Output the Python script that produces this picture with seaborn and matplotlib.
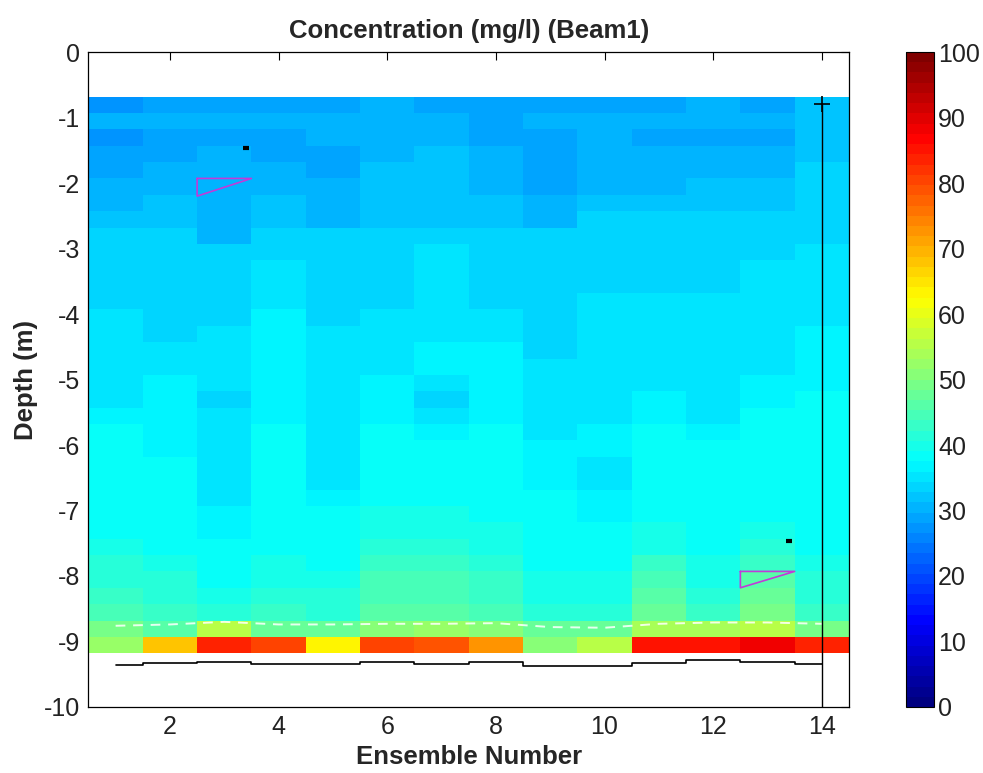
import numpy as np
import matplotlib
matplotlib.use("Agg")
import matplotlib.pyplot as plt
from matplotlib.colors import LinearSegmentedColormap
import seaborn as sns

# --- data ---
ensembles = np.arange(1, 15)
bin_top = -0.68      # top edge of first depth cell (m)
bin_size = 0.25      # depth cell size (m)

# concentration (mg/l), one row per depth cell (top -> bottom), one column per ensemble
conc = np.array([
    [27.0, 28.5, 28.5, 28.5, 28.5, 29.8, 28.5, 28.5, 28.5, 28.5, 28.5, 29.8, 28.5, 31.5],
    [29.8, 29.8, 29.8, 29.8, 31.0, 31.0, 29.8, 29.0, 29.8, 31.0, 31.0, 31.0, 31.0, 32.0],
    [27.3, 29.0, 29.0, 29.0, 29.8, 31.0, 29.8, 28.5, 28.5, 30.5, 28.5, 28.5, 28.5, 32.0],
    [28.5, 29.0, 29.8, 29.0, 29.0, 29.8, 32.0, 31.0, 29.0, 29.8, 29.8, 29.8, 29.8, 32.0],
    [29.0, 29.8, 30.5, 29.8, 29.0, 31.5, 32.0, 29.8, 29.0, 29.8, 30.5, 30.5, 30.5, 33.0],
    [29.8, 30.5, 31.0, 30.5, 30.5, 32.0, 32.0, 29.8, 29.0, 30.5, 30.5, 32.0, 32.0, 33.5],
    [30.5, 31.5, 31.0, 31.5, 30.5, 32.0, 32.0, 31.5, 29.8, 32.0, 32.0, 32.0, 32.0, 33.5],
    [31.5, 32.0, 30.5, 31.5, 31.0, 32.0, 32.0, 32.0, 30.5, 33.0, 33.0, 33.0, 33.0, 33.5],
    [33.0, 33.0, 31.0, 33.0, 33.0, 33.0, 34.0, 33.0, 33.0, 33.0, 33.5, 33.5, 33.5, 34.0],
    [33.5, 33.5, 33.0, 33.5, 33.5, 33.5, 34.8, 33.5, 33.5, 33.5, 33.5, 33.5, 33.0, 34.8],
    [34.0, 33.5, 34.0, 34.5, 34.0, 34.0, 35.0, 34.0, 34.0, 34.0, 34.0, 34.0, 34.5, 35.0],
    [33.5, 33.0, 33.0, 35.5, 33.8, 33.5, 35.0, 33.5, 33.5, 33.5, 33.5, 33.0, 34.5, 34.5],
    [33.8, 33.5, 33.8, 35.5, 33.5, 33.8, 35.0, 33.5, 33.5, 34.5, 34.5, 34.5, 34.5, 35.0],
    [35.5, 33.0, 33.8, 36.3, 33.5, 34.5, 35.0, 34.5, 33.5, 34.5, 34.5, 34.5, 34.5, 35.5],
    [35.5, 33.8, 35.0, 37.0, 34.5, 35.0, 35.0, 34.5, 33.8, 34.5, 34.5, 34.5, 35.0, 36.3],
    [35.0, 34.5, 35.0, 37.0, 34.5, 35.5, 36.3, 36.3, 33.8, 34.5, 34.5, 34.5, 35.5, 36.3],
    [35.0, 34.5, 34.5, 37.0, 34.5, 35.0, 36.3, 36.3, 34.5, 35.0, 35.0, 34.5, 35.5, 36.3],
    [35.0, 36.3, 34.5, 37.0, 35.0, 36.3, 35.5, 36.3, 35.0, 35.5, 35.5, 35.5, 36.3, 36.8],
    [35.0, 36.3, 33.0, 37.0, 34.5, 36.3, 33.8, 36.3, 34.5, 35.5, 36.3, 35.5, 36.3, 37.5],
    [37.0, 36.3, 34.5, 37.0, 34.5, 37.0, 35.5, 36.3, 34.5, 35.5, 36.3, 35.5, 37.5, 37.5],
    [37.5, 36.3, 35.0, 37.5, 35.0, 37.5, 37.0, 37.5, 34.5, 36.3, 37.5, 36.3, 37.5, 37.5],
    [37.5, 37.0, 35.0, 37.5, 35.5, 37.5, 37.5, 37.5, 36.3, 37.0, 37.5, 37.5, 37.5, 37.5],
    [38.0, 38.0, 35.5, 38.0, 35.5, 38.5, 38.0, 38.0, 36.3, 35.5, 38.0, 38.0, 38.0, 38.0],
    [38.5, 38.0, 35.5, 38.0, 35.5, 38.5, 38.5, 38.5, 36.3, 35.5, 38.0, 38.0, 38.0, 38.0],
    [38.5, 38.0, 35.5, 38.0, 36.0, 39.0, 39.0, 38.5, 37.5, 36.0, 38.5, 38.0, 38.0, 38.0],
    [38.5, 38.0, 36.0, 38.0, 37.5, 39.5, 39.5, 38.5, 37.5, 37.0, 38.5, 38.0, 38.5, 38.0],
    [39.0, 38.5, 37.0, 38.5, 38.0, 40.5, 40.5, 39.5, 38.0, 37.5, 39.5, 38.5, 39.5, 38.5],
    [40.0, 39.0, 37.5, 39.0, 38.5, 41.5, 41.5, 40.5, 38.0, 38.0, 40.5, 39.0, 41.5, 39.0],
    [41.0, 40.0, 38.0, 39.5, 39.0, 42.5, 42.5, 41.5, 38.5, 38.5, 42.5, 39.5, 43.5, 40.0],
    [42.0, 41.0, 39.0, 40.5, 40.0, 44.0, 44.0, 42.5, 39.5, 39.5, 44.5, 40.5, 46.0, 41.0],
    [43.0, 42.0, 40.0, 41.5, 41.0, 45.0, 45.0, 43.5, 40.5, 40.5, 46.0, 41.5, 47.5, 42.0],
    [45.0, 43.0, 41.0, 42.5, 42.0, 46.0, 46.0, 44.5, 41.5, 42.0, 47.0, 43.0, 49.0, 43.0],
    [49.0, 46.0, 56.0, 48.0, 48.0, 51.0, 52.0, 50.0, 47.0, 48.0, 54.0, 54.0, 55.0, 49.0],
    [53.0, 67.5, 84.0, 80.0, 64.0, 81.0, 79.0, 72.0, 51.0, 56.0, 85.0, 85.0, 87.5, 84.0],
])

# bottom track depth and side-lobe cutoff per ensemble (m)
bottom_depth = [-9.36, -9.33, -9.31, -9.34, -9.34, -9.31, -9.34, -9.31,
                -9.38, -9.38, -9.33, -9.29, -9.32, -9.34]
cutoff_depth = [-8.76, -8.74, -8.70, -8.74, -8.74, -8.73, -8.73, -8.72,
                -8.78, -8.79, -8.73, -8.71, -8.71, -8.73]

# current ensemble marker
cur_ens = 14
cur_top = -0.79

# magenta triangle markers and small black ticks
tri1_x = [2.5, 3.5, 2.5, 2.5]
tri1_y = [-1.93, -1.93, -2.20, -1.93]
tri2_x = [12.5, 13.5, 12.5, 12.5]
tri2_y = [-7.93, -7.93, -8.18, -7.93]
dash_x = [3.4, 13.4]
dash_y = [-1.47, -7.46]

# MATLAB-style jet
mjet = LinearSegmentedColormap('mjet', {
    'red':   [(0, 0, 0), (0.375, 0, 0), (0.625, 1, 1), (0.875, 1, 1), (1, 0.5, 0.5)],
    'green': [(0, 0, 0), (0.125, 0, 0), (0.375, 1, 1), (0.625, 1, 1), (0.875, 0, 0), (1, 0, 0)],
    'blue':  [(0, 0.5, 0.5), (0.125, 1, 1), (0.375, 1, 1), (0.625, 0, 0), (1, 0, 0)],
}, N=64)

# --- style ---
sns.set_style("white")
plt.rcParams['font.family'] = ['Liberation Sans', 'DejaVu Sans']

fig = plt.figure(figsize=(9.83, 7.73), dpi=100)
ax = fig.add_axes([0.090, 0.0854, 0.7737, 0.8473])
cax = fig.add_axes([0.9217, 0.0854, 0.0285, 0.8473])

x_edges = np.append(ensembles - 0.5, ensembles[-1] + 0.5)
y_edges = bin_top - bin_size * np.arange(conc.shape[0] + 1)
mesh = ax.pcolormesh(x_edges, y_edges, conc, cmap=mjet, vmin=0, vmax=100, shading='flat')

# overlays
sns.lineplot(x=ensembles, y=cutoff_depth, ax=ax, color='white', lw=1.4,
             linestyle=(0, (5, 4)), alpha=0.85, sort=False)
sns.lineplot(x=ensembles, y=bottom_depth, ax=ax, color='black', lw=1.2,
             drawstyle='steps-mid', sort=False)
ax.plot([cur_ens, cur_ens], [cur_top, -10], color='black', lw=1.0)
ax.plot([cur_ens], [cur_top], marker='+', color='black', ms=11, mew=1.2)
ax.plot(tri1_x, tri1_y, color='#c23ad8', lw=1.2)
ax.plot(tri2_x, tri2_y, color='#c23ad8', lw=1.2)
ax.plot(dash_x, dash_y, ls='none', marker='_', color='black', ms=5, mew=3)

ax.set_xlim(0.5, 14.5)
ax.set_ylim(-10, 0)
ax.set_xticks(range(2, 15, 2))
ax.set_yticks(range(-10, 1))
ax.set_yticklabels([str(v) for v in range(-10, 1)])
ax.tick_params(direction='in', top=True, right=True, length=6, width=0.8,
               labelsize=18, colors='black', labelcolor='#222222', pad=6)
for s in ax.spines.values():
    s.set_color('black')
    s.set_linewidth(0.9)

ax.set_title('Concentration (mg/l) (Beam1)', fontsize=18.5, fontweight='bold', pad=10)
ax.set_xlabel('Ensemble Number', fontsize=18.5, fontweight='bold', labelpad=4)
ax.set_ylabel('Depth (m)', fontsize=18.5, fontweight='bold', labelpad=4)

cb = fig.colorbar(mesh, cax=cax)
cb.set_ticks(range(0, 101, 10))
cb.ax.tick_params(labelsize=18, length=0, pad=3, labelcolor='#222222')
cb.outline.set_edgecolor('black')
cb.outline.set_linewidth(0.8)

fig.savefig('out.png', dpi=100)
